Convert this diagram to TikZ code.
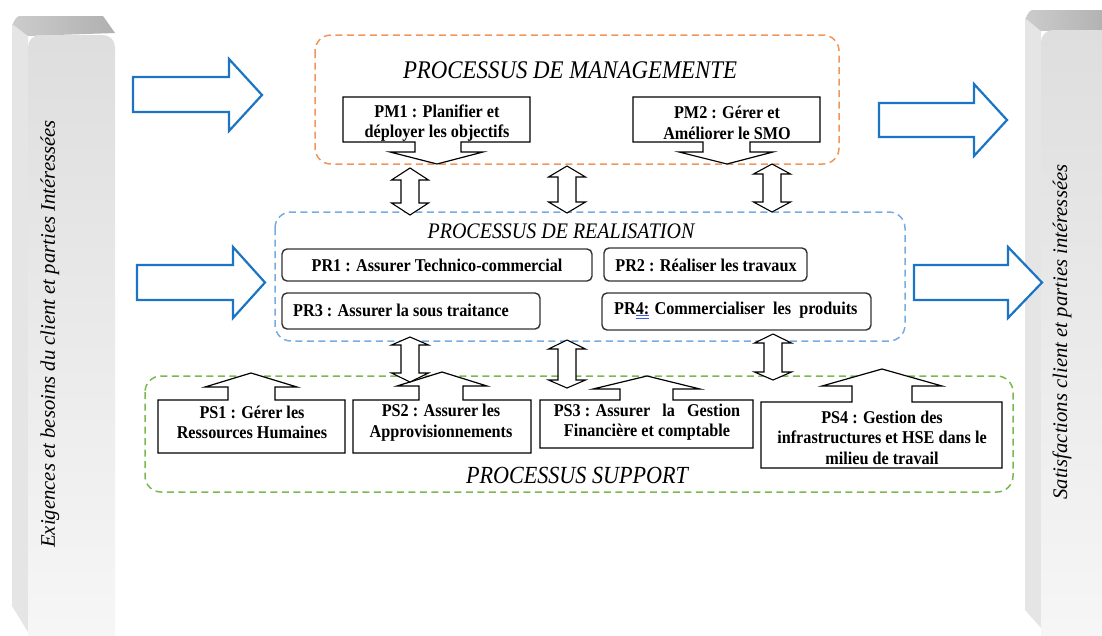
\documentclass[tikz,border=0pt]{standalone}
\usepackage{fontspec}
\setmainfont{Liberation Serif}
\newfontfamily\narrowserif[FakeStretch=0.9]{Liberation Serif}
\definecolor{mgmtline}{RGB}{240,150,90}
\definecolor{realline}{RGB}{120,172,225}
\definecolor{suppline}{RGB}{122,185,82}
\definecolor{arrowblue}{RGB}{28,116,196}
\definecolor{spellblue}{RGB}{60,90,230}
% vertical double block arrow: centre x, top tip, top head base, bottom head base, bottom tip
\newcommand\dblvarrow[5]{%
  \draw[dblarrow] (#1,#2) -- ({#1+18.5},#3) -- ({#1+9},#3) -- ({#1+9},#4) -- ({#1+18.5},#4)
    -- (#1,#5) -- ({#1-18.5},#4) -- ({#1-9},#4) -- ({#1-9},#3) -- ({#1-18.5},#3) -- cycle;}
% right-pointing block arrow: tail x, shaft top, shaft bottom, head base x, head top, head bottom, tip x
\newcommand\rightblock[7]{%
  \draw[bluearrow] (#1,#2) -- (#4,#2) -- (#4,#5) -- (#7,{(#5+#6)/2}) -- (#4,#6) -- (#4,#3) -- (#1,#3) -- cycle;}
\begin{document}
\begin{tikzpicture}[x=1pt,y=-1pt,
  container/.style={line width=1.5pt, dash pattern=on 7pt off 4.5pt, rounded corners=16pt},
  callout/.style={draw=black, fill=white, line width=1.2pt, line join=miter},
  prbox/.style={draw=black!80, fill=white, line width=1.4pt, rounded corners=5pt},
  dblarrow/.style={draw=black, fill=white, line width=1.1pt, line join=miter},
  bluearrow/.style={draw=arrowblue, fill=white, line width=2.2pt, line join=miter},
  boxtext/.style={font=\narrowserif\fontsize{18}{20.5}\selectfont\bfseries, align=center, inner sep=0pt},
  grouptitle/.style={inner sep=0pt},
  bartext/.style={font=\fontsize{20.7}{24}\selectfont\itshape, rotate=90, inner sep=0pt},
]
\useasboundingbox (0,0) rectangle (1102,635);
\clip (0,0) rectangle (1102,635);

% ---- left pillar ----
\fill[gray!20] (12,24) -- (28,36) -- (28,632) -- (12,606) -- cycle;
\shade[left color=gray!40, right color=gray!62] (12,24) to[out=-90,in=180] (19,16) -- (103,16) -- (115,33) -- (28,36) -- cycle;
\shade[top color=gray!26, bottom color=gray!6, rounded corners=12pt] (28,35) rectangle (115,665);
\node[bartext] (leftlabel) at (50,334) {Exigences et besoins du client et parties Intéressées};

% ---- right pillar ----
\fill[gray!20] (1025,18) -- (1041,31) -- (1041,628) -- (1025,610) -- cycle;
\shade[left color=gray!40, right color=gray!62] (1025,18) to[out=-90,in=180] (1032,10) -- (1110,10) -- (1110,30) -- (1041,31) -- cycle;
\shade[top color=gray!26, bottom color=gray!6, rounded corners=12pt] (1041,30) rectangle (1140,665);
\node[bartext] (rightlabel) at (1062,332) {Satisfactions client et parties intéressées};

% ---- process groups ----
\draw[container, mgmtline] (315,35) rectangle (839,164);
\draw[container, realline] (275,212) rectangle (905,341);
\draw[container, suppline] (145,376) rectangle (1013,492);

\node[grouptitle, font=\narrowserif\fontsize{25.4}{28}\selectfont\itshape] (mgmttitle) at (570,70) {PROCESSUS DE MANAGEMENTE};
\node[grouptitle, font=\narrowserif\fontsize{22.2}{25}\selectfont\itshape] (realtitle) at (561,231) {PROCESSUS DE REALISATION};
\node[grouptitle, font=\narrowserif\fontsize{24.6}{28}\selectfont\itshape] (supptitle) at (577,475) {PROCESSUS SUPPORT};

% ---- input / output arrows ----
\rightblock{133}{77}{112}{229}{59}{131}{262}
\rightblock{137}{265}{300}{233}{247}{318}{265}
\rightblock{879}{103}{137}{974}{84}{156}{1007}
\rightblock{914}{265}{300}{1008}{247}{318}{1042}

% ---- management processes (down-arrow callouts) ----
\draw[callout] (343,97) -- (530,97) -- (530,142) -- (461,142) -- (461,152) -- (483,152) -- (437,164)
  -- (390,152) -- (415,152) -- (415,142) -- (343,142) -- cycle;
\draw[callout] (633,97) -- (820,97) -- (820,142) -- (750,142) -- (750,152) -- (773,152) -- (727,164)
  -- (679,152) -- (703,152) -- (703,142) -- (633,142) -- cycle;
\node[boxtext] (pm1) at (437,123) {PM1 : Planifier et\\déployer les objectifs};
\node[boxtext] (pm2) at (727,123) {PM2 : Gérer et\\Améliorer le SMO};

% ---- realisation processes ----
\draw[prbox] (282,249) rectangle (592,281);
\draw[prbox] (604,248) rectangle (807,281);
\draw[prbox] (282,293) rectangle (540,329);
\draw[prbox] (602,293) rectangle (871,330);
\node[boxtext] (pr1) at (437,265) {PR1 : Assurer Technico-commercial};
\node[boxtext] (pr2) at (706,265) {PR2 : Réaliser les travaux};
\node[boxtext, anchor=west] (pr3) at (293,310) {PR3 : Assurer la sous traitance};
\node[boxtext, anchor=west] (pr4) at (614,310) {PR4: Commercialiser~~les~~produits};
\draw[spellblue, line width=0.8pt] (636,315) -- (649,315) (636,318) -- (649,318);

% ---- support processes (up-arrow callouts) ----
\draw[callout] (158,453) -- (158,400) -- (228,400) -- (228,387) -- (205,387) -- (251,373) -- (297,387)
  -- (275,387) -- (275,400) -- (345,400) -- (345,453) -- cycle;
\draw[callout] (353,453) -- (353,400) -- (419,400) -- (419,386) -- (397,386) -- (442,372) -- (487,386)
  -- (463,386) -- (463,400) -- (531,400) -- (531,453) -- cycle;
\draw[callout] (540,448) -- (540,400) -- (620,400) -- (620,389) -- (593,389) -- (647,376) -- (700,389)
  -- (673,389) -- (673,400) -- (753,400) -- (753,448) -- cycle;
\draw[callout] (761,468) -- (761,402) -- (852,402) -- (852,386) -- (822,386) -- (882,369) -- (942,386)
  -- (912,386) -- (912,402) -- (1002,402) -- (1002,468) -- cycle;
\node[boxtext] (ps1) at (252,422.5) {PS1 : Gérer les\\Ressources Humaines};
\node[boxtext] (ps2) at (441,422.5) {PS2 : Assurer les\\Approvisionnements};
\node[boxtext] (ps3) at (647,422) {PS3 : Assurer~~~la~~~Gestion\\Financière et comptable};
\node[boxtext] (ps4) at (882,437.5) {PS4 : Gestion des\\infrastructures et HSE dans le\\milieu de travail};

% ---- exchanges between the groups ----
\dblvarrow{410}{168}{180}{203}{215}
\dblvarrow{567}{166}{177}{202}{213}
\dblvarrow{772}{164}{174}{202}{212}
\dblvarrow{410}{337}{345}{373}{382}
\dblvarrow{567}{340}{349}{380}{388}
\dblvarrow{773}{334}{343}{372}{380}
\end{tikzpicture}
\end{document}
